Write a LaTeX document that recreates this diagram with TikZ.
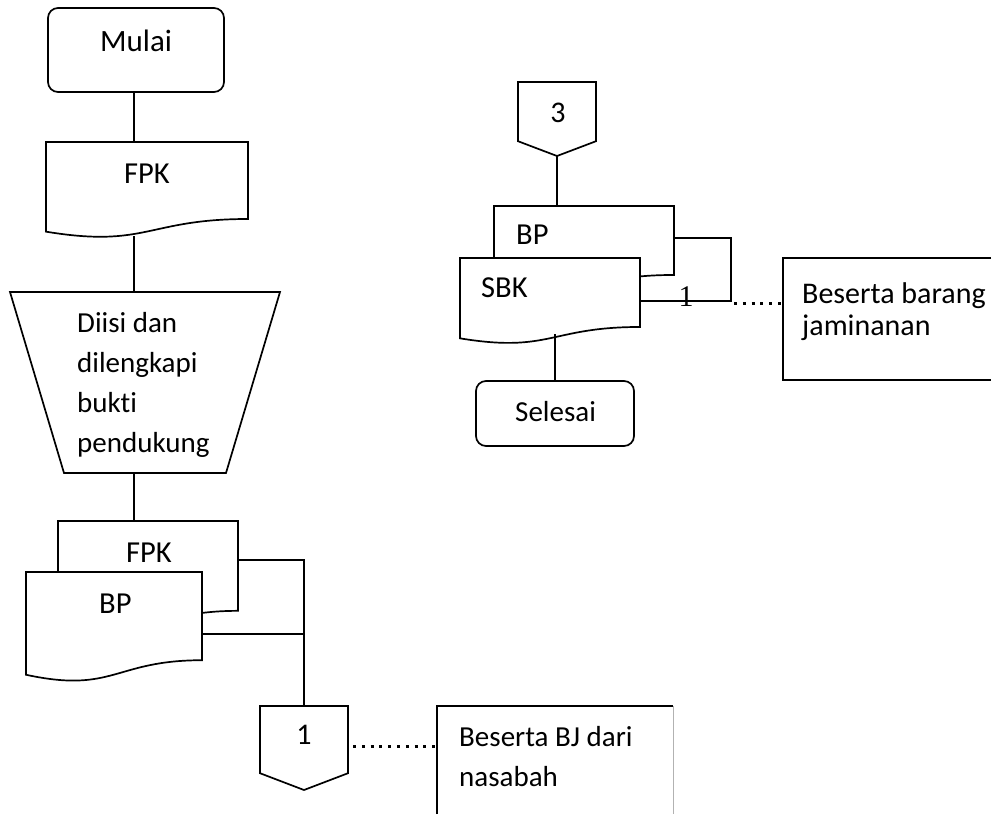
\documentclass[tikz,border=0pt]{standalone}
\usepackage{fontspec}
\setmainfont{Carlito}[Ligatures=NoCommon]
\newfontfamily\serifone{Liberation Serif}
\usetikzlibrary{calc}
\newcommand\docshape[2][]{\draw[ln,#1] (#2.north west) -- (#2.north east) -- ($(#2.north east)!0.802!(#2.south east)$) .. controls ($(#2.north)!0.802!(#2.south)$) and ($(#2.north)!1.107!(#2.south)$) .. ($(#2.north west)!0.934!(#2.south west)$) -- cycle;}
\newcommand\offpage[1]{\draw[ln] (#1.north west) -- (#1.north east) -- ($(#1.north east)!0.8!(#1.south east)$) -- (#1.south) -- ($(#1.north west)!0.8!(#1.south west)$) -- cycle;}
\begin{document}
\begin{tikzpicture}[x=1pt,y=-1pt,
  ln/.style={line width=1.7pt, line join=miter},
  holder/.style 2 args={minimum width=#1pt, minimum height=#2pt, inner sep=0pt, outer sep=0pt},
  txt/.style={inner sep=0pt, anchor=base west, font=\fontsize{30.5}{36}\selectfont},
  stxt/.style={inner sep=0pt, anchor=base west, font=\fontsize{29}{35}\selectfont},
  ctxt/.style={inner sep=0pt, anchor=base, font=\fontsize{30}{36}\selectfont},
  dots/.style={line width=3pt, dash pattern=on 3pt off 5.8pt},
  pale/.style={line width=1pt, draw=black!30}]
\useasboundingbox (0,0) rectangle (995,814);

% ---- left column shapes ----
\node[holder={176}{84}, draw, ln, rounded corners=10pt] (mulai) at (136,50) {};
\node[holder={202}{96}] (fpk1) at (147,190) {};
\docshape{fpk1}
\node[holder={270}{181}] (trap) at (145,382.5) {};
\draw[ln] (trap.north west) -- (trap.north east) -- ([xshift=-54pt]trap.south east) -- ([xshift=54pt]trap.south west) -- cycle;
\node[holder={180}{112}] (fpkb) at (148,577) {};
\docshape{fpkb}
\node[holder={176}{110}] (bpf) at (114,627) {};
\docshape[fill=white]{bpf}
\node[holder={88}{84}] (con1) at (304,748) {};
\offpage{con1}
\node[holder={236}{108}] (ann1) at (555,760) {};
\draw[ln] (ann1.south west) -- (ann1.north west) -- (ann1.north east);
\draw[pale] (ann1.north east) -- (ann1.south east);

% ---- right column shapes ----
\node[holder={78}{74}] (con3) at (557,119) {};
\offpage{con3}
\node[holder={180}{86}] (bpb) at (584,249) {};
\docshape{bpb}
\node[holder={180}{86}] (sbk) at (550,301) {};
\docshape[fill=white]{sbk}
\node[holder={158}{65}, draw, ln, rounded corners=10pt] (selesai) at (555,413.5) {};
\node[holder={208}{122}] (ann2) at (887,319) {};
\draw[ln] (ann2.north east) -- (ann2.north west) -- (ann2.south west) -- (ann2.south east);

% ---- connectors ----
\coordinate (sp) at (134,0);
\coordinate (j1) at (304,560);
\coordinate (j1b) at (304,634);
\coordinate (j2) at (731,238);
\coordinate (j3) at (731,301);
\draw[ln] (mulai.south -| sp) -- (fpk1.north -| sp);
\draw[ln] ($(fpk1.south -| sp)+(0,-2)$) -- (trap.north -| sp);
\draw[ln] (trap.south -| sp) -- (fpkb.north -| sp);
\draw[ln] (fpkb.east |- j1) -- (j1) -- (con1.north);
\draw[ln] (bpf.east |- j1b) -- (j1b);
\draw[dots] (353,746) -- (ann1.west |- 0,746);
\draw[ln] (con3.south) -- (bpb.north -| con3.south);
\draw[ln] (bpb.east |- j2) -- (j2) -- (j3) -- (sbk.east |- j3);
\draw[dots] (734,303.5) -- (ann2.west |- 0,303.5);
\draw[ln] (selesai.north |- 0,334) -- (selesai.north);

% ---- texts ----
\node[txt, font=\fontsize{31}{36}\selectfont] (tmulai) at (100,51) {Mulai};
\node[txt] (tfpk1) at (124,183) {FPK};
\node[stxt] (tr1) at (77,332) {Diisi dan};
\node[stxt] (tr2) at (77,372) {dilengkapi};
\node[stxt] (tr3) at (77,412) {bukti};
\node[stxt] (tr4) at (77,452) {pendukung};
\node[txt] (tfpkb) at (126,562) {FPK};
\node[txt] (tbpf) at (99,613) {BP};
\node[ctxt] (tcon1) at (304,744) {1};
\node[stxt] (ta1a) at (459,746) {Beserta BJ dari};
\node[stxt] (ta1b) at (459,786) {nasabah};
\node[ctxt] (tcon3) at (558,122) {3};
\node[txt] (tbpb) at (516,244) {BP};
\node[txt] (tsbk) at (481,297) {SBK};
\node[stxt] (tsel) at (515,421) {Selesai};
\node[txt, font=\fontsize{30}{36}\selectfont] (ta2a) at (802,303) {Beserta barang};
\node[txt, font=\fontsize{30}{36}\selectfont] (ta2b) at (802,335) {jaminanan};
\node[inner sep=0pt, anchor=base, font=\serifone\fontsize{30}{36}\selectfont] (tone) at (686,306) {1};
\end{tikzpicture}
\end{document}
